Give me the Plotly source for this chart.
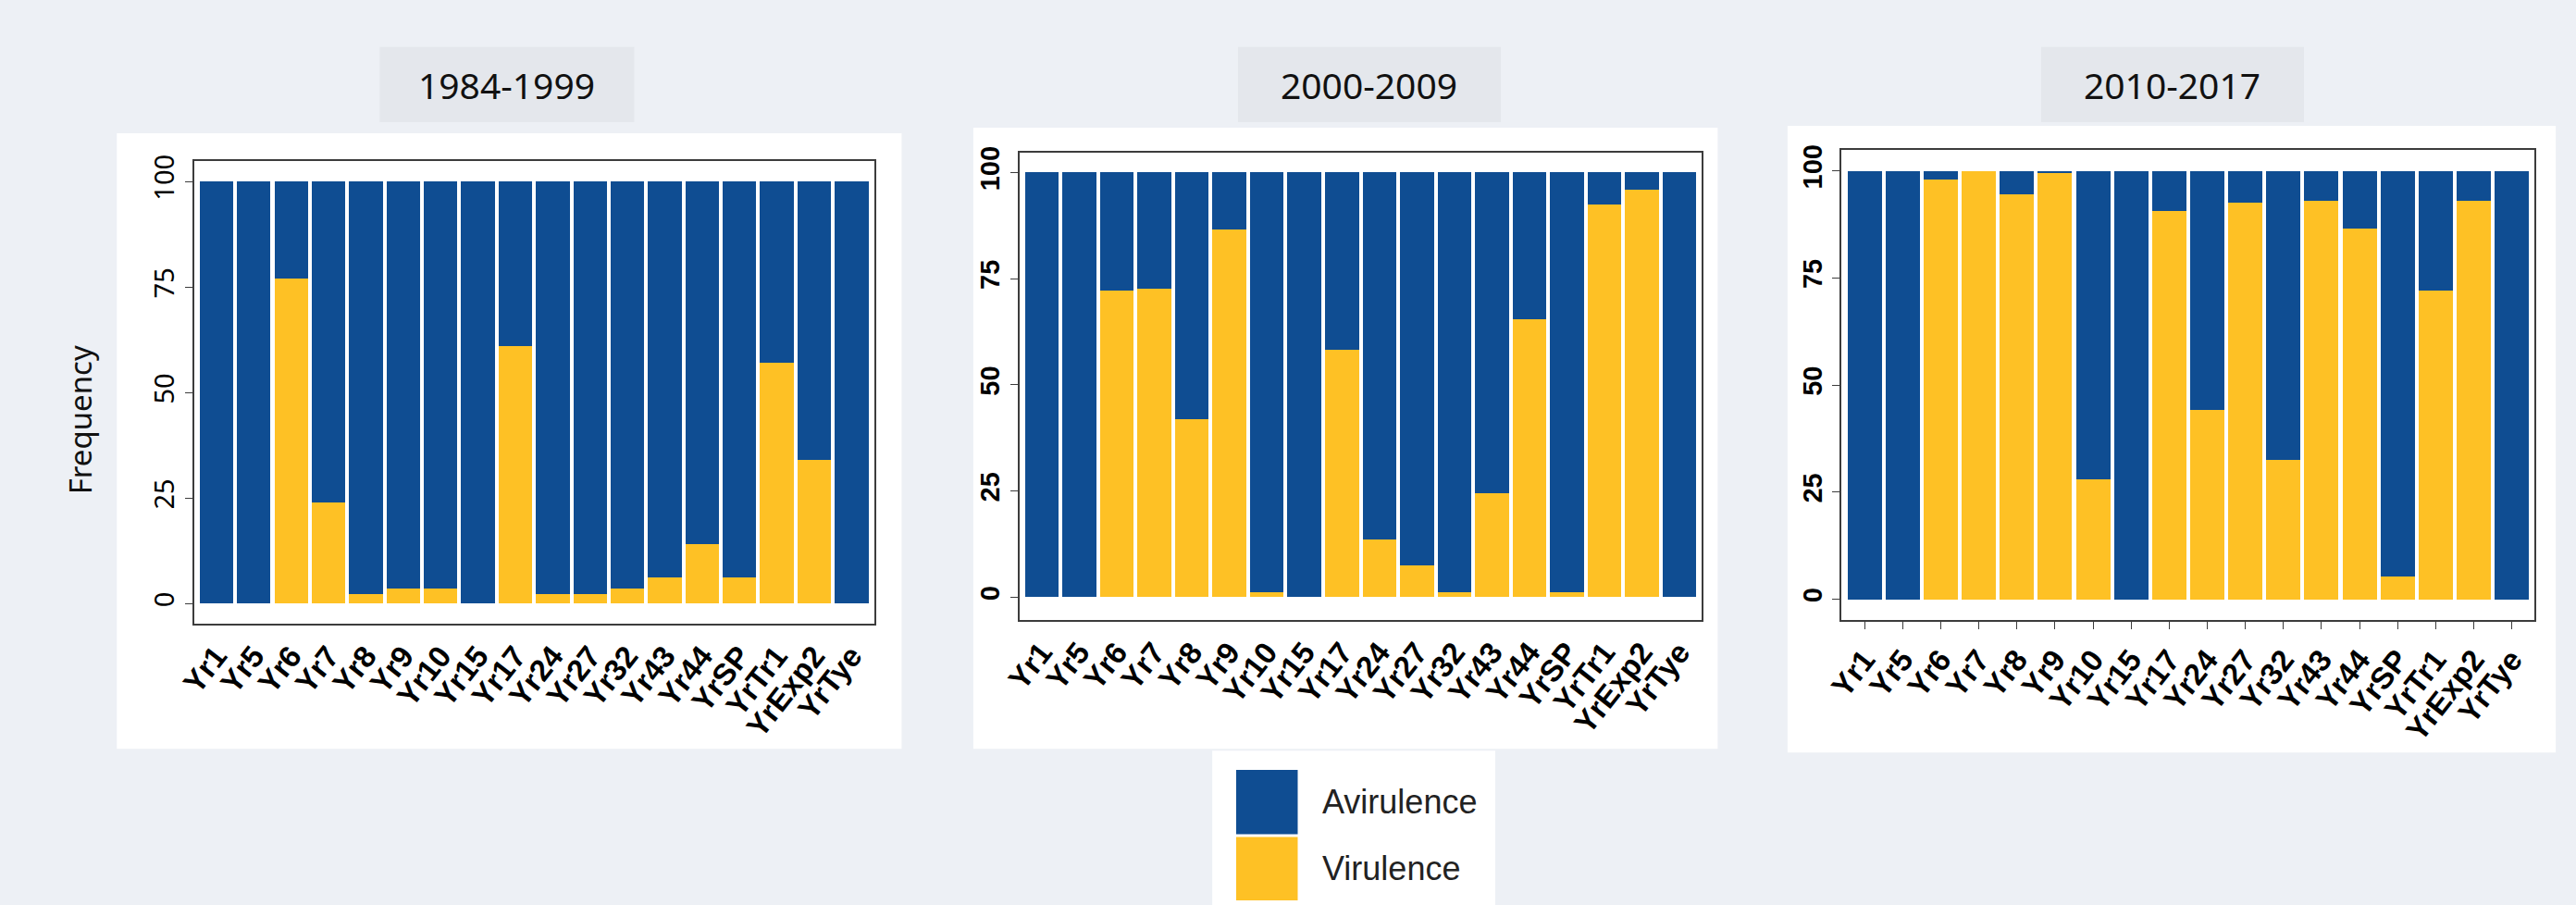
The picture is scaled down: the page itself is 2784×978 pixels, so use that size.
import plotly.graph_objects as go

# Resistance genes (shared x categories)
genes = ["Yr1", "Yr5", "Yr6", "Yr7", "Yr8", "Yr9", "Yr10", "Yr15", "Yr17",
         "Yr24", "Yr27", "Yr32", "Yr43", "Yr44", "YrSP", "YrTr1", "YrExp2", "YrTye"]

periods = ["1984-1999", "2000-2009", "2010-2017"]

# Virulence frequency (%) per gene, per period
vir_1984_1999 = [0, 0, 77, 24, 2.2, 3.5, 3.5, 0, 61, 2.2, 2.2, 3.5, 6.2, 14, 6.2, 57, 34, 0]
vir_2000_2009 = [0, 0, 72.2, 72.7, 42, 86.6, 1.1, 0, 58.2, 13.6, 7.4, 1.1, 24.4, 65.5, 1.1, 92.4, 95.9, 0]
vir_2010_2017 = [0, 0, 98, 100, 94.5, 99.5, 27.9, 0, 90.6, 44.1, 92.5, 32.5, 93.1, 86.6, 5.2, 72.1, 93.1, 0]

# Avirulence frequency (%) per gene, per period
avir_1984_1999 = [100, 100, 23, 76, 97.8, 96.5, 96.5, 100, 39, 97.8, 97.8, 96.5, 93.8, 86, 93.8, 43, 66, 100]
avir_2000_2009 = [100, 100, 27.8, 27.3, 58, 13.4, 98.9, 100, 41.8, 86.4, 92.6, 98.9, 75.6, 34.5, 98.9, 7.6, 4.1, 100]
avir_2010_2017 = [100, 100, 2, 0, 5.5, 0.5, 72.1, 100, 9.4, 55.9, 7.5, 67.5, 6.9, 13.4, 94.8, 27.9, 6.9, 100]

y_ticks = [0, 25, 50, 75, 100]

BLUE = "#0f4d92"
YELLOW = "#fec125"
BG = "#edf0f5"
LINE = "#3c3c3c"
W, H = 2784, 978

vir_sets = [vir_1984_1999, vir_2000_2009, vir_2010_2017]
avir_sets = [avir_1984_1999, avir_2000_2009, avir_2010_2017]

# panel geometry in pixels: (left, right, top, bottom), y range
panels_px = [(192, 932, 168, 672), (1090, 1833, 159, 668), (1985, 2739, 156, 668)]
y_ranges = [[-4.8, 104.9], [-5.4, 104.7], [-4.9, 104.9]]
white_px = [(108, 962, 138, 808), (1040, 1850, 132, 808), (1926, 2762, 130, 812)]
title_px = [(394, 671, 44, 126), (1328, 1614, 44, 126), (2202, 2488, 44, 126)]


def fx(px):
    return px / W


def fy(py):
    return 1 - py / H


fig = go.Figure()
layout = dict(
    width=W, height=H,
    margin=dict(l=0, r=0, t=0, b=0),
    paper_bgcolor=BG, plot_bgcolor="white",
    barmode="stack", bargap=0.1,
    showlegend=False,
    shapes=[], annotations=[],
)

for i in range(3):
    n = "" if i == 0 else str(i + 1)
    xa, ya = "x" + n, "y" + n
    fig.add_trace(go.Bar(x=genes, y=vir_sets[i], name="Virulence",
                         marker=dict(color=YELLOW, line=dict(width=0)),
                         xaxis=xa, yaxis=ya))
    fig.add_trace(go.Bar(x=genes, y=avir_sets[i], name="Avirulence",
                         marker=dict(color=BLUE, line=dict(width=0)),
                         xaxis=xa, yaxis=ya))
    l, r, t, b = panels_px[i]
    bold = i > 0
    layout["xaxis" + n] = dict(
        domain=[fx(l), fx(r)], anchor=ya, type="category",
        range=[-0.6, 17.6], tickangle=-52,
        tickfont=dict(family="Liberation Sans", size=33, color="black", weight="bold"),
        showline=True, mirror=True, linecolor=LINE, linewidth=2,
        ticks="outside" if i == 2 else "", ticklen=8, tickcolor=LINE,
        showgrid=False, zeroline=False, fixedrange=True,
    )
    layout["yaxis" + n] = dict(
        domain=[fy(b), fy(t)], anchor=xa, range=y_ranges[i],
        tickvals=y_ticks, tickangle=-90,
        tickfont=dict(family="Liberation Sans" if bold else "Noto Sans", size=29,
                      color="black", weight="bold" if bold else "normal"),
        showline=True, mirror=True, linecolor=LINE, linewidth=2,
        ticks="outside", ticklen=8, tickcolor=LINE,
        showgrid=False, zeroline=False, fixedrange=True,
    )
    # white card behind each panel
    wl, wr, wt, wb = white_px[i]
    layout["shapes"].append(dict(type="rect", xref="paper", yref="paper",
                                 x0=fx(wl), x1=fx(wr), y0=fy(wb), y1=fy(wt),
                                 fillcolor="white", line=dict(width=0), layer="below"))
    # title plate
    tl, tr, tt, tb = title_px[i]
    layout["shapes"].append(dict(type="rect", xref="paper", yref="paper",
                                 x0=fx(tl), x1=fx(tr), y0=fy(tb), y1=fy(tt),
                                 fillcolor="#e4e7ec", line=dict(width=0), layer="below"))
    layout["annotations"].append(dict(
        text=periods[i], xref="paper", yref="paper",
        x=fx((tl + tr) / 2), y=fy((tt + tb) / 2), showarrow=False,
        xanchor="center", yanchor="middle",
        font=dict(family="Noto Sans", size=39, color="#111111")))

# y axis title
layout["annotations"].append(dict(
    text="Frequency", xref="paper", yref="paper", x=fx(68), y=fy(450),
    showarrow=False, textangle=-90, xanchor="center", yanchor="middle",
    font=dict(family="Noto Sans", size=33, color="#111111")))

# legend card
layout["shapes"].append(dict(type="rect", xref="paper", yref="paper",
                             x0=fx(1300), x1=fx(1608), y0=0, y1=fy(810),
                             fillcolor="white", line=dict(width=0), layer="below"))
legend_items = [("Avirulence", BLUE, 831, 901), ("Virulence", YELLOW, 904, 973)]
for label, color, top, bot in legend_items:
    layout["shapes"].append(dict(type="rect", xref="paper", yref="paper",
                                 x0=fx(1326), x1=fx(1393), y0=fy(bot), y1=fy(top),
                                 fillcolor=color, line=dict(width=0)))
    layout["annotations"].append(dict(
        text=label, xref="paper", yref="paper", x=fx(1418), y=fy((top + bot) / 2),
        showarrow=False, xanchor="left", yanchor="middle",
        font=dict(family="Liberation Sans", size=36, color="#222222")))

fig.update_layout(**layout)
fig.write_html("out.html")
